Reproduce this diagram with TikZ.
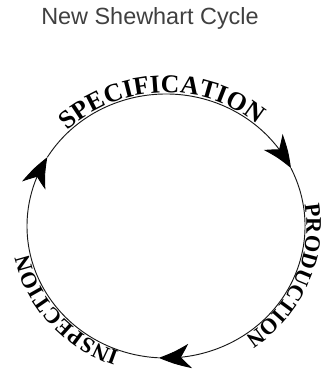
\documentclass[tikz,border=0pt]{standalone}
\usepackage{fontspec}
\setmainfont{Liberation Sans}
\newfontfamily\arcserif{Liberation Serif}
\usetikzlibrary{arrows.meta, bending, decorations.text}
\newcommand{\arclbl}{\arcserif\bfseries\fontsize{19}{19}\selectfont}
\newcommand{\arclbltop}{\arcserif\bfseries\fontsize{22}{22}\selectfont}

\begin{document}
\begin{tikzpicture}[
    x=0.03cm, y=0.03cm,
    cycleline/.style={line width=0.8pt, black!90,
                      -{Stealth[length=27pt, width=21pt, inset=8pt, bend, black]}},
    arclabel/.style={decorate, decoration={text along path, text align=center,
                     raise=1.2pt, text={|\arclbl|#1}}},
    toplabel/.style={decorate, decoration={text along path, text align=center,
                     raise=1.2pt, text={|\arclbltop|#1}}},
    title/.style={font=\fontsize{20}{20}\selectfont, text=black!75}
]
  \useasboundingbox (0,0) rectangle (323,376);
  \node[title] (title) at (150,358) {New Shewhart Cycle};

  % ellipse centre and the three arrow tips
  \coordinate (c) at (166,150);
  \path (c) ++(148.6:139 and 132) coordinate (tipL);
  \path (c) ++(26:139 and 132) coordinate (tipR);
  \path (c) ++(267:139 and 132) coordinate (tipB);

  \draw[cycleline] (tipL) arc[start angle=148.6, end angle=26, x radius=139, y radius=132];
  \draw[cycleline] (tipR) arc[start angle=26, end angle=-93, x radius=139, y radius=132];
  \draw[cycleline] (tipB) arc[start angle=267, end angle=148.6, x radius=139, y radius=132];

  % labels along the cycle
  \path (c) ++(152:139 and 132) coordinate (specA);
  \path (c) ++(18:139 and 132) coordinate (prodA);
  \path (c) ++(262:139 and 132) coordinate (inspA);
  \path[toplabel=SPECIFICATION] (specA) arc[start angle=152, end angle=32, x radius=139, y radius=132];
  \path[arclabel=PRODUCTION] (prodA) arc[start angle=18, end angle=-64, x radius=139, y radius=132];
  \path[arclabel=INSPECTION] (inspA) arc[start angle=262, end angle=180, x radius=139, y radius=132];
\end{tikzpicture}
\end{document}
